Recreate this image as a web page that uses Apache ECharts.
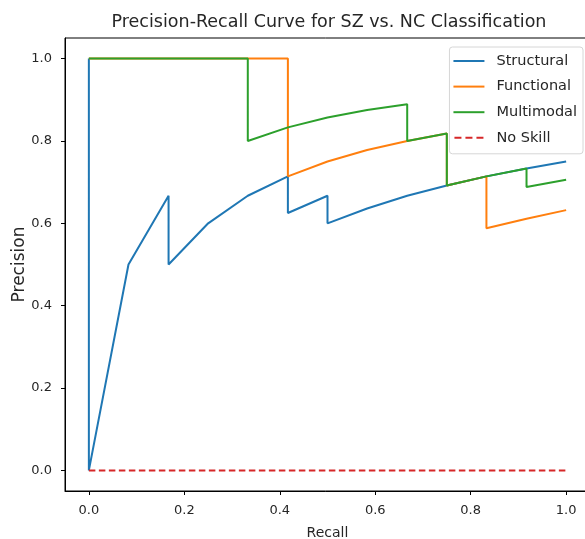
<!DOCTYPE html>
<html>
<head>
<meta charset="utf-8">
<script src="https://cdn.jsdelivr.net/npm/echarts@6/dist/echarts.min.js"></script>
<style>
  html, body { margin: 0; padding: 0; background: #fff; }
  #chart { width: 585px; height: 539px; }
</style>
</head>
<body>
<div id="chart"></div>
<script>
// Precision-recall points, [recall, precision]
const structural = [
    [1.0, 0.75], [0.917, 0.733], [0.833, 0.714], [0.75, 0.692], [0.667, 0.667],
    [0.583, 0.636], [0.5, 0.6], [0.5, 0.667], [0.417, 0.625], [0.417, 0.714],
    [0.333, 0.667], [0.25, 0.6], [0.167, 0.5], [0.167, 0.667], [0.083, 0.5],
    [0.0, 0.0], [0.0, 1.0]
];
const functional = [
    [1.0, 0.632], [0.917, 0.611], [0.833, 0.588], [0.833, 0.714], [0.75, 0.692],
    [0.75, 0.818], [0.667, 0.8], [0.583, 0.778], [0.5, 0.75], [0.417, 0.714],
    [0.417, 1.0], [0.0, 1.0]
];
const multimodal = [
    [1.0, 0.706], [0.917, 0.688], [0.917, 0.733], [0.833, 0.714], [0.75, 0.692],
    [0.75, 0.818], [0.667, 0.8], [0.667, 0.889], [0.583, 0.875], [0.5, 0.857],
    [0.417, 0.833], [0.333, 0.8], [0.333, 1.0], [0.0, 1.0]
];
const noSkill = [[0.0, 0.0], [1.0, 0.0]];

const xTicks = [0, 0.2, 0.4, 0.6, 0.8, 1.0];
const yTicks = [0, 0.2, 0.4, 0.6, 0.8, 1.0];

const FONT = 'DejaVu Sans';
const TEXT = '#262626';
const SOLID_ICON = 'path://M0,0H31V2H0Z';
const DASH_ICON = 'path://M0,0H7V2H0Z M11,0H18V2H11Z M22,0H29V2H22Z';

function initChart() {
    const chart = echarts.init(document.getElementById('chart'), null, { renderer: 'canvas' });

    const lineSeries = (name, data, color, dashed) => ({
        name: name,
        type: 'line',
        data: data,
        symbol: 'none',
        animation: false,
        lineStyle: { color: color, width: 2, type: dashed ? [6.5, 3.5] : 'solid' },
        itemStyle: { color: color }
    });

    const axisCommon = {
        type: 'value',
        min: -0.05,
        max: 1.05,
        splitLine: { show: false },
        nameMoveOverlap: false,
        axisLine: { show: true, onZero: false, lineStyle: { color: '#000', width: 1 } }
    };

    const option = {
        backgroundColor: '#fff',
        title: {
            text: 'Precision-Recall Curve for SZ vs. NC Classification',
            left: 324,
            textAlign: 'center',
            top: 8,
            textStyle: { fontFamily: FONT, fontSize: 17.5, fontWeight: 'normal', color: TEXT }
        },
        grid: {
            left: 65, top: 38, right: -5, bottom: 48,
            show: true, borderColor: '#000', borderWidth: 1,
            containLabel: false,
            outerBoundsMode: 'none'
        },
        legend: {
            right: 2, top: 47,
            orient: 'vertical',
            itemWidth: 31,
            itemHeight: 2,
            itemGap: 9.6,
            padding: [6, 6, 8, 4],
            backgroundColor: 'rgba(255,255,255,0.8)',
            borderColor: '#d6d6d6',
            borderWidth: 1,
            borderRadius: 3,
            textStyle: {
                fontFamily: FONT, fontSize: 14.5, color: TEXT,
                lineHeight: 16, padding: [0, 0, 0, 7]
            },
            data: [
                { name: 'Structural', icon: SOLID_ICON },
                { name: 'Functional', icon: SOLID_ICON },
                { name: 'Multimodal', icon: SOLID_ICON },
                { name: 'No Skill', icon: DASH_ICON }
            ]
        },
        xAxis: Object.assign({}, axisCommon, {
            name: 'Recall',
            nameLocation: 'middle',
            nameGap: 35,
            nameTextStyle: { fontFamily: FONT, fontSize: 14, color: TEXT },
            axisTick: { show: true, length: 4, customValues: xTicks, lineStyle: { color: '#000' } },
            axisLabel: {
                customValues: xTicks,
                margin: 13,
                fontFamily: FONT, fontSize: 13, color: TEXT,
                formatter: v => v.toFixed(1)
            }
        }),
        yAxis: Object.assign({}, axisCommon, {
            name: 'Precision',
            nameLocation: 'middle',
            nameGap: 37,
            nameTextStyle: { fontFamily: FONT, fontSize: 17, color: TEXT },
            axisTick: { show: true, length: 4, customValues: yTicks, lineStyle: { color: '#000' } },
            axisLabel: {
                customValues: yTicks,
                margin: 13,
                fontFamily: FONT, fontSize: 13, color: TEXT,
                formatter: v => v.toFixed(1)
            }
        }),
        series: [
            lineSeries('Structural', structural, '#1f77b4', false),
            lineSeries('Functional', functional, '#ff7f0e', false),
            lineSeries('Multimodal', multimodal, '#2ca02c', false),
            lineSeries('No Skill', noSkill, '#d62728', true)
        ]
    };

    chart.setOption(option);
}

initChart();
</script>
</body>
</html>
